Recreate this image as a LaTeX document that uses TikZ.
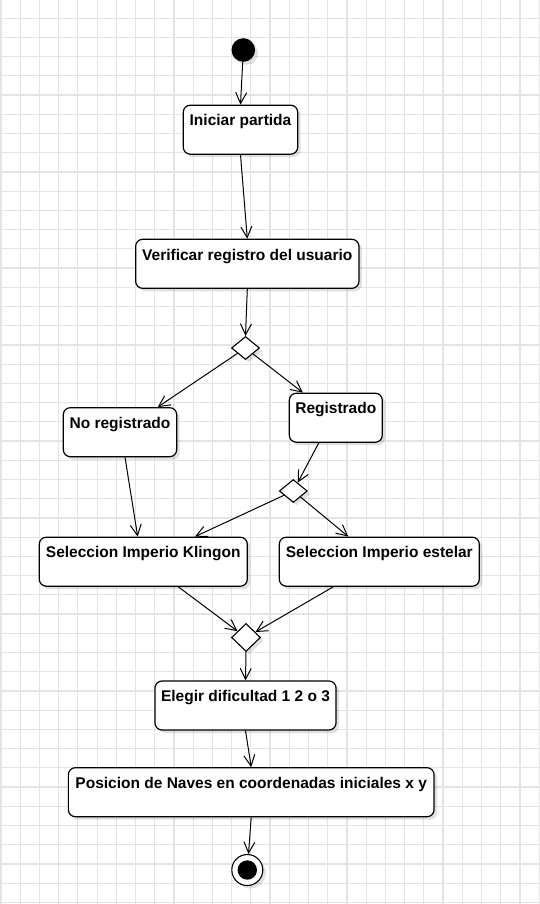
\documentclass[tikz,border=0pt]{standalone}
\usepackage{fontspec}
\setmainfont{Liberation Sans}
\usetikzlibrary{arrows.meta,shapes.geometric,shadows,calc}
\definecolor{gridc}{HTML}{E4E4E4}
\begin{document}
\begin{tikzpicture}[x=1pt,y=-1pt,
  shad/.style={drop shadow={shadow xshift=3pt,shadow yshift=-3pt,opacity=0.12,fill=black}},
  act/.style={draw=black,line width=1.2pt,fill=white,rounded corners=7pt,inner xsep=0pt,inner ysep=0pt,
    text height=20.7pt,text depth=28.3pt,font=\bfseries\fontsize{15.5}{18}\selectfont,shad},
  dec/.style={draw=black,line width=1.1pt,fill=white,diamond,inner sep=0pt,shad},
  arr/.style={line width=1pt,-{Straight Barb[length=11pt,width=11pt]}}]
\useasboundingbox (0,0) rectangle (539,904);
\fill[white] (0,0) rectangle (539,904);
\foreach \i in {0,...,28} \draw[gridc,line width=1.2pt] ({1+19.22*\i},0) -- ({1+19.22*\i},904);
\foreach \j in {0,...,47} \draw[gridc,line width=1.2pt] (0,{-1+19.22*\j}) -- (539,{-1+19.22*\j});

\node[circle,fill=black,minimum size=23.6pt,inner sep=0pt,shad] (start) at (243.3,50) {};
\node[act,minimum width=114.4pt] (ini) at (240.5,129.7) {Iniciar partida};
\node[act,minimum width=223.3pt] (ver) at (247.3,263.8) {Verificar registro del usuario};
\node[dec,minimum width=28pt,minimum height=23pt] (d1) at (245.5,348) {};
\node[act,minimum width=113.4pt] (nore) at (120,432.2) {No registrado};
\node[act,minimum width=93pt] (reg) at (335.8,417.7) {Registrado};
\node[dec,minimum width=28pt,minimum height=23pt] (d2) at (293.3,491) {};
\node[act,minimum width=208pt] (kling) at (143.3,561.7) {Seleccion Imperio Klingon};
\node[act,minimum width=200pt] (estel) at (379.3,561.7) {Seleccion Imperio estelar};
\node[dec,minimum width=29pt,minimum height=28pt] (d3) at (246,637.5) {};
\node[act,minimum width=181pt] (eleg) at (245.5,705.5) {Elegir dificultad 1 2 o 3};
\node[act,minimum width=365.7pt] (pos) at (251.2,792.2) {Posicion de Naves en coordenadas iniciales x y};
\node[circle,draw=black,line width=1.1pt,fill=white,minimum size=31pt,inner sep=0pt,shad] (endo) at (247.3,870) {};
\node[circle,fill=black,minimum size=19.4pt,inner sep=0pt] (endi) at (endo) {};

\draw[arr] (start) -- (ini.north);
\draw[arr] (ini.south) -- (ver.north);
\draw[arr] (ver.south) -- (d1.north);
\draw[arr] (d1) -- ($(nore.north)+(37.7,0)$);
\draw[arr] (d1) -- ($(reg.north)+(-33,0)$);
\draw[arr] ($(nore.south)+(5,0)$) -- ($(kling.north)+(-5.6,0)$);
\draw[arr] ($(reg.south)+(-17,0)$) -- (d2);
\draw[arr] (d2) -- ($(kling.north)+(51.7,0)$);
\draw[arr] (d2) -- ($(estel.north)+(-31,0)$);
\draw[arr] ($(kling.south)+(35,0)$) -- (d3);
\draw[arr] ($(estel.south)+(-46,0)$) -- (d3);
\draw[arr] (d3.south) -- (eleg.north);
\draw[arr] (eleg.south) -- (pos.north);
\draw[arr] (pos.south) -- (endo);
\end{tikzpicture}
\end{document}
